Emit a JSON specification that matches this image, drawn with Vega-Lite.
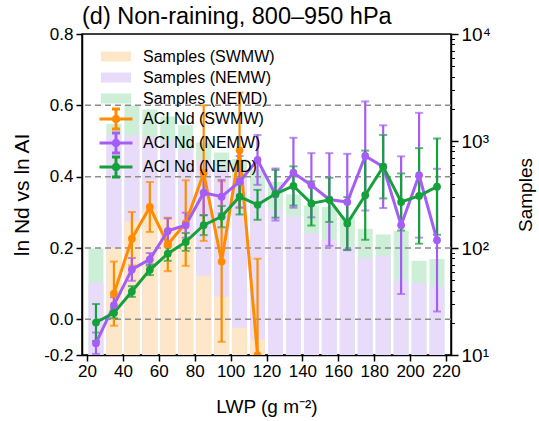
{
  "$schema": "https://vega.github.io/schema/vega-lite/v6.json",
  "width": 369,
  "height": 321,
  "autosize": {"type": "none"},
  "padding": {"left": 82, "top": 34, "right": 88, "bottom": 66},
  "title": {"text": "(d) Non-raining, 800–950 hPa", "anchor": "start", "frame": "group", "fontSize": 23.5, "fontWeight": "normal", "font": "Liberation Sans", "color": "black", "offset": -3},
  "config": {
    "view": {"stroke": "black", "strokeWidth": 1.5},
    "font": "Liberation Sans",
    "axis": {"labelFont": "Liberation Sans", "titleFont": "Liberation Sans", "labelColor": "black", "titleColor": "black", "domainColor": "black", "domainWidth": 1.5, "tickColor": "black", "tickWidth": 1.5, "tickSize": 6, "labelFontSize": 17, "titleFontSize": 19, "titleFontWeight": "normal", "grid": false, "labelOverlap": false},
    "legend": {"labelFont": "Liberation Sans", "labelFontSize": 16, "labelColor": "black", "labelLimit": 300}
  },
  "datasets": {
    "bars": [
      {"lwp": 25, "region": "Samples (NEMD)", "n": 99}, {"lwp": 35, "region": "Samples (NEMD)", "n": 1450}, {"lwp": 45, "region": "Samples (NEMD)", "n": 2150}, {"lwp": 55, "region": "Samples (NEMD)", "n": 1970}, {"lwp": 65, "region": "Samples (NEMD)", "n": 1690}, {"lwp": 75, "region": "Samples (NEMD)", "n": 1400}, {"lwp": 85, "region": "Samples (NEMD)", "n": 970}, {"lwp": 95, "region": "Samples (NEMD)", "n": 780}, {"lwp": 105, "region": "Samples (NEMD)", "n": 680}, {"lwp": 115, "region": "Samples (NEMD)", "n": 540}, {"lwp": 125, "region": "Samples (NEMD)", "n": 414}, {"lwp": 135, "region": "Samples (NEMD)", "n": 316}, {"lwp": 145, "region": "Samples (NEMD)", "n": 250}, {"lwp": 155, "region": "Samples (NEMD)", "n": 241}, {"lwp": 165, "region": "Samples (NEMD)", "n": 195}, {"lwp": 175, "region": "Samples (NEMD)", "n": 151}, {"lwp": 185, "region": "Samples (NEMD)", "n": 134}, {"lwp": 195, "region": "Samples (NEMD)", "n": 144}, {"lwp": 205, "region": "Samples (NEMD)", "n": 76}, {"lwp": 215, "region": "Samples (NEMD)", "n": 79},
      {"lwp": 25, "region": "Samples (NEMW)", "n": 47}, {"lwp": 35, "region": "Samples (NEMW)", "n": 1130}, {"lwp": 45, "region": "Samples (NEMW)", "n": 1130}, {"lwp": 55, "region": "Samples (NEMW)", "n": 1100}, {"lwp": 65, "region": "Samples (NEMW)", "n": 1030}, {"lwp": 75, "region": "Samples (NEMW)", "n": 830}, {"lwp": 85, "region": "Samples (NEMW)", "n": 670}, {"lwp": 95, "region": "Samples (NEMW)", "n": 540}, {"lwp": 105, "region": "Samples (NEMW)", "n": 456}, {"lwp": 115, "region": "Samples (NEMW)", "n": 365}, {"lwp": 125, "region": "Samples (NEMW)", "n": 229}, {"lwp": 135, "region": "Samples (NEMW)", "n": 198}, {"lwp": 145, "region": "Samples (NEMW)", "n": 137}, {"lwp": 155, "region": "Samples (NEMW)", "n": 120}, {"lwp": 165, "region": "Samples (NEMW)", "n": 104}, {"lwp": 175, "region": "Samples (NEMW)", "n": 81}, {"lwp": 185, "region": "Samples (NEMW)", "n": 85}, {"lwp": 195, "region": "Samples (NEMW)", "n": 50}, {"lwp": 205, "region": "Samples (NEMW)", "n": 47}, {"lwp": 215, "region": "Samples (NEMW)", "n": 44},
      {"lwp": 35, "region": "Samples (SWMW)", "n": 100}, {"lwp": 45, "region": "Samples (SWMW)", "n": 178}, {"lwp": 55, "region": "Samples (SWMW)", "n": 225}, {"lwp": 65, "region": "Samples (SWMW)", "n": 185}, {"lwp": 75, "region": "Samples (SWMW)", "n": 134}, {"lwp": 85, "region": "Samples (SWMW)", "n": 55}, {"lwp": 95, "region": "Samples (SWMW)", "n": 35}, {"lwp": 105, "region": "Samples (SWMW)", "n": 18}, {"lwp": 115, "region": "Samples (SWMW)", "n": 14}
    ],
    "aci": [
      {"lwp": 35, "series": "ACI Nd (SWMW)", "aci": 0.072, "err": 0.09}, {"lwp": 45, "series": "ACI Nd (SWMW)", "aci": 0.226, "err": 0.075}, {"lwp": 55, "series": "ACI Nd (SWMW)", "aci": 0.315, "err": 0.07}, {"lwp": 65, "series": "ACI Nd (SWMW)", "aci": 0.21, "err": 0.075}, {"lwp": 75, "series": "ACI Nd (SWMW)", "aci": 0.27, "err": 0.12}, {"lwp": 85, "series": "ACI Nd (SWMW)", "aci": 0.41, "err": 0.19}, {"lwp": 95, "series": "ACI Nd (SWMW)", "aci": 0.162, "err": 0.225}, {"lwp": 105, "series": "ACI Nd (SWMW)", "aci": 0.474, "err": 0.162}, {"lwp": 115, "series": "ACI Nd (SWMW)", "aci": -0.1, "err": 0.27},
      {"lwp": 25, "series": "ACI Nd (NEMW)", "aci": -0.067, "err": 0.03}, {"lwp": 35, "series": "ACI Nd (NEMW)", "aci": 0.04, "err": 0.022}, {"lwp": 45, "series": "ACI Nd (NEMW)", "aci": 0.14, "err": 0.032}, {"lwp": 55, "series": "ACI Nd (NEMW)", "aci": 0.168, "err": 0.018}, {"lwp": 65, "series": "ACI Nd (NEMW)", "aci": 0.248, "err": 0.035}, {"lwp": 75, "series": "ACI Nd (NEMW)", "aci": 0.264, "err": 0.035}, {"lwp": 85, "series": "ACI Nd (NEMW)", "aci": 0.355, "err": 0.063}, {"lwp": 95, "series": "ACI Nd (NEMW)", "aci": 0.344, "err": 0.047}, {"lwp": 105, "series": "ACI Nd (NEMW)", "aci": 0.386, "err": 0.072}, {"lwp": 115, "series": "ACI Nd (NEMW)", "aci": 0.447, "err": 0.07}, {"lwp": 125, "series": "ACI Nd (NEMW)", "aci": 0.35, "err": 0.073}, {"lwp": 135, "series": "ACI Nd (NEMW)", "aci": 0.411, "err": 0.098}, {"lwp": 145, "series": "ACI Nd (NEMW)", "aci": 0.376, "err": 0.09}, {"lwp": 155, "series": "ACI Nd (NEMW)", "aci": 0.336, "err": 0.13}, {"lwp": 165, "series": "ACI Nd (NEMW)", "aci": 0.329, "err": 0.135}, {"lwp": 175, "series": "ACI Nd (NEMW)", "aci": 0.458, "err": 0.153}, {"lwp": 185, "series": "ACI Nd (NEMW)", "aci": 0.428, "err": 0.116}, {"lwp": 195, "series": "ACI Nd (NEMW)", "aci": 0.264, "err": 0.193}, {"lwp": 205, "series": "ACI Nd (NEMW)", "aci": 0.404, "err": 0.175}, {"lwp": 215, "series": "ACI Nd (NEMW)", "aci": 0.222, "err": 0.2},
      {"lwp": 25, "series": "ACI Nd (NEMD)", "aci": -0.009, "err": 0.052}, {"lwp": 35, "series": "ACI Nd (NEMD)", "aci": 0.018, "err": 0.015}, {"lwp": 45, "series": "ACI Nd (NEMD)", "aci": 0.078, "err": 0.015}, {"lwp": 55, "series": "ACI Nd (NEMD)", "aci": 0.139, "err": 0.015}, {"lwp": 65, "series": "ACI Nd (NEMD)", "aci": 0.184, "err": 0.02}, {"lwp": 75, "series": "ACI Nd (NEMD)", "aci": 0.217, "err": 0.025}, {"lwp": 85, "series": "ACI Nd (NEMD)", "aci": 0.264, "err": 0.028}, {"lwp": 95, "series": "ACI Nd (NEMD)", "aci": 0.288, "err": 0.03}, {"lwp": 105, "series": "ACI Nd (NEMD)", "aci": 0.344, "err": 0.05}, {"lwp": 115, "series": "ACI Nd (NEMD)", "aci": 0.321, "err": 0.042}, {"lwp": 125, "series": "ACI Nd (NEMD)", "aci": 0.352, "err": 0.067}, {"lwp": 135, "series": "ACI Nd (NEMD)", "aci": 0.374, "err": 0.055}, {"lwp": 145, "series": "ACI Nd (NEMD)", "aci": 0.325, "err": 0.062}, {"lwp": 155, "series": "ACI Nd (NEMD)", "aci": 0.335, "err": 0.062}, {"lwp": 165, "series": "ACI Nd (NEMD)", "aci": 0.269, "err": 0.074}, {"lwp": 175, "series": "ACI Nd (NEMD)", "aci": 0.348, "err": 0.125}, {"lwp": 185, "series": "ACI Nd (NEMD)", "aci": 0.428, "err": 0.089}, {"lwp": 195, "series": "ACI Nd (NEMD)", "aci": 0.329, "err": 0.08}, {"lwp": 205, "series": "ACI Nd (NEMD)", "aci": 0.346, "err": 0.134}, {"lwp": 215, "series": "ACI Nd (NEMD)", "aci": 0.372, "err": 0.135}
    ],
    "grid": [{"g": 0}, {"g": 0.2}, {"g": 0.4}, {"g": 0.6}]
  },
  "layer": [
    {
      "data": {"name": "bars"},
      "mark": {"type": "bar", "width": 15, "clip": true},
      "encoding": {
        "x": {"field": "lwp", "type": "quantitative", "scale": {"domain": [20, 220], "nice": false, "zero": false}, "axis": {"values": [20, 40, 60, 80, 100, 120, 140, 160, 180, 200, 220], "title": "LWP (g m⁻²)", "labelFlush": false, "labelOverlap": false, "titlePadding": 18}},
        "y": {"field": "n", "type": "quantitative", "stack": null, "scale": {"type": "log", "domain": [10, 10000], "nice": false}, "axis": {"orient": "right", "title": "Samples", "titleAngle": 270, "titleBaseline": "top", "titlePadding": 26, "values": [10, 20, 30, 40, 50, 60, 70, 80, 90, 100, 200, 300, 400, 500, 600, 700, 800, 900, 1000, 2000, 3000, 4000, 5000, 6000, 7000, 8000, 9000, 10000], "labelExpr": "datum.value == 10 ? '10¹' : datum.value == 100 ? '10²' : datum.value == 1000 ? '10³' : datum.value == 10000 ? '10⁴' : ''", "tickSize": {"condition": {"test": "datum.value == 10 || datum.value == 100 || datum.value == 1000 || datum.value == 10000", "value": 7}, "value": 3.5}, "tickWidth": {"condition": {"test": "datum.value == 10 || datum.value == 100 || datum.value == 1000 || datum.value == 10000", "value": 1.5}, "value": 1}, "labelFontSize": 19, "labelFlush": false, "labelPadding": 3}},
        "y2": {"datum": 10},
        "fill": {"field": "region", "type": "nominal", "scale": {"domain": ["Samples (SWMW)", "Samples (NEMW)", "Samples (NEMD)"], "range": ["#fee6c9", "#e9dcfa", "#cdeed7"]}, "legend": {"title": null, "orient": "none", "legendX": 26, "legendY": 14.5, "padding": 0, "symbolType": "M-3,-1H3V1H-3Z", "symbolSize": 100, "symbolStrokeWidth": 0, "labelOffset": 19, "rowPadding": 5}}
      }
    },
    {
      "data": {"name": "aci"},
      "layer": [
        {
          "data": {"name": "grid"},
          "mark": {"type": "rule", "color": "#8c8c8c", "strokeWidth": 1.5, "strokeDash": [6, 4]},
          "encoding": {"y": {"field": "g", "type": "quantitative"}}
        },
        {
          "mark": {"type": "errorbar", "ticks": {"size": 8, "thickness": 2}, "thickness": 2.2, "clip": true},
          "encoding": {
            "x": {"field": "lwp", "type": "quantitative", "axis": {"values": [20, 40, 60, 80, 100, 120, 140, 160, 180, 200, 220], "title": "LWP (g m⁻²)", "labelFlush": false, "labelOverlap": false, "titlePadding": 18}},
            "y": {"field": "aci", "type": "quantitative", "scale": {"domain": [-0.1, 0.8], "nice": false, "zero": false}, "axis": {"orient": "left", "title": "ln Nd vs ln AI", "titleFontSize": 21, "values": [-0.1, 0, 0.2, 0.4, 0.6, 0.8], "labelExpr": "datum.value < -0.05 ? '-0.2' : format(datum.value, '.1f')", "labelPadding": 3, "titlePadding": 11}},
            "yError": {"field": "err"},
            "color": {"field": "series", "type": "nominal", "scale": {"domain": ["ACI Nd (SWMW)", "ACI Nd (NEMW)", "ACI Nd (NEMD)"], "range": ["#ff8c00", "#a55ef5", "#14a03a"]}, "legend": {"title": null, "orient": "none", "legendX": 26, "legendY": 77, "padding": 0, "symbolType": "M-3.3,0H3.3M0,-2V2M-0.8,-2H0.8M-0.8,2H0.8M0.55,0A0.55,0.55 0 1,1 -0.55,0A0.55,0.55 0 1,1 0.55,0Z", "symbolSize": 100, "symbolStrokeWidth": 3, "labelOffset": 19, "rowPadding": -8, "encode": {"symbols": {"update": {"fill": {"scale": "color", "field": "value"}}}}}}
          }
        },
        {
          "mark": {"type": "line", "strokeWidth": 3, "clip": true, "point": {"size": 60, "filled": true, "clip": true}},
          "encoding": {
            "x": {"field": "lwp", "type": "quantitative", "axis": {"values": [20, 40, 60, 80, 100, 120, 140, 160, 180, 200, 220], "title": "LWP (g m⁻²)", "labelFlush": false, "labelOverlap": false, "titlePadding": 18}},
            "y": {"field": "aci", "type": "quantitative"},
            "color": {"field": "series", "type": "nominal", "legend": {"title": null, "orient": "none", "legendX": 26, "legendY": 77, "padding": 0, "symbolType": "M-3.3,0H3.3M0,-2V2M-0.8,-2H0.8M-0.8,2H0.8M0.55,0A0.55,0.55 0 1,1 -0.55,0A0.55,0.55 0 1,1 0.55,0Z", "symbolSize": 100, "symbolStrokeWidth": 3, "labelOffset": 19, "rowPadding": -8, "encode": {"symbols": {"update": {"fill": {"scale": "color", "field": "value"}}}}}}
          }
        }
      ]
    }
  ],
  "resolve": {"scale": {"y": "independent"}}
}
